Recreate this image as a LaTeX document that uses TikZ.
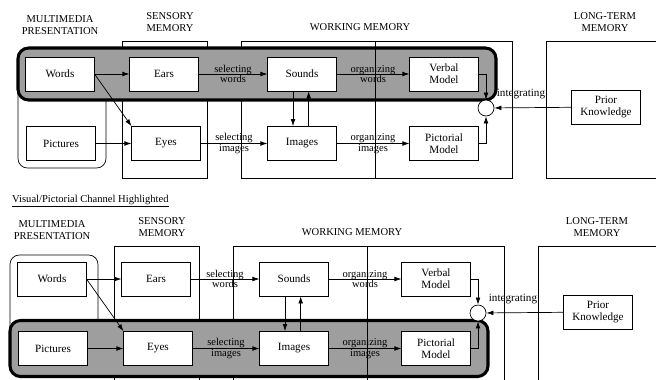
\documentclass[tikz,border=0pt]{standalone}
\usepackage{fontspec}
\setmainfont{Liberation Serif}
\usetikzlibrary{arrows.meta}

\begin{document}
\begin{tikzpicture}
[
	x=0.03cm, y=-0.03cm,
	>={Latex[length=6pt,width=4pt]},
	every node/.style={font=\fontsize{9.5}{10}\selectfont},
	box/.style={draw,fill=white,line width=0.6pt,minimum width=2.05cm,minimum height=1.02cm,align=center,inner sep=1pt},
	area/.style={draw,line width=0.6pt},
	band/.style={draw,line width=2.6pt,fill=black!38,rounded corners=9pt},
	head/.style={align=center,inner sep=0pt,font=\fontsize{9}{10}\selectfont},
	lbl/.style={align=center,inner sep=0pt,font=\fontsize{9}{9}\selectfont},
	link/.style={->,line width=0.6pt}
]

	\useasboundingbox (0,0) rectangle (656,379);
	\clip (0,0) rectangle (656,379);

	% title of the lower panel
	\node[anchor=west,inner sep=0pt,font=\fontsize{9}{10}\selectfont] (title) at (12,201) {\underline{Visual/Pictorial Channel Highlighted}};

	\foreach \p/\dx/\dy/\by/\bh in {t/0/0/74/26, b/-8/205/143.5/28} {
	\begin{scope}[shift={(\dx,\dy)}]

		% memory areas
		\draw[area,rounded corners=8pt] (18,50) rectangle (106,168);
		\draw[area] (122,41) rectangle (207,178);
		\draw[area] (241,41) rectangle (512,178);
		\draw[area] (546,41) rectangle (680,178);

		% highlighted channel
		\draw[band] (18,{\by-\bh}) rectangle (496,{\by+\bh});
		\draw[area] (375,41) -- (375,178);

		% headers
		\node[head] (\p mm) at (60,25) {MULTIMEDIA\\PRESENTATION};
		\node[head] (\p sm) at (170,22) {SENSORY\\MEMORY};
		\node[head] (\p wm) at (360,27) {WORKING MEMORY};
		\node[head] (\p ltm) at (605,22) {LONG-TERM\\MEMORY};

		% boxes
		\node[box] (\p Words) at (60,74) {Words};
		\node[box] (\p Ears) at (164,74) {Ears};
		\node[box] (\p Sounds) at (302,74) {Sounds};
		\node[box] (\p Verbal) at (444,74) {Verbal\\Model};
		\node[box] (\p Pictures) at (61,143.5) {Pictures};
		\node[box] (\p Eyes) at (166,143.5) {Eyes};
		\node[box] (\p Images) at (302,143.5) {Images};
		\node[box] (\p Pictorial) at (444,143.5) {Pictorial\\Model};
		\node[draw,circle,fill=white,minimum size=0.48cm,inner sep=0pt,line width=0.6pt] (\p int) at (486,108) {};
		\node[box] (\p Prior) at (606,107) {Prior\\Knowledge};
		\node[inner sep=0pt] (\p intlbl) at (521,94) {integrating};

		% arrows
		\draw[link] (\p Words) -- (\p Ears);
		\draw[link] (\p Words.east) -- (\p Eyes.north west);
		\draw[link] (\p Pictures) -- (\p Eyes);
		\draw[link] (\p Ears) -- node[lbl] {selecting\\words} (\p Sounds);
		\draw[link] (\p Eyes) -- node[lbl] {selecting\\images} (\p Images);
		\draw[link] ([xshift=-0.27cm]\p Sounds.south) -- ([xshift=-0.27cm]\p Images.north);
		\draw[link] ([xshift=0.2cm]\p Images.north) -- ([xshift=0.2cm]\p Sounds.south);
		\draw[link] (\p Sounds) -- node[lbl] {organizing\\words} (\p Verbal);
		\draw[link] (\p Images) -- node[lbl] {organizing\\images} (\p Pictorial);
		\draw[link] (\p Verbal.east) -| (\p int.north);
		\draw[link] (\p Pictorial.east) -| (\p int.south);
		\draw[link] (\p Prior) -- (\p int);

	\end{scope}
	}

\end{tikzpicture}
\end{document}
